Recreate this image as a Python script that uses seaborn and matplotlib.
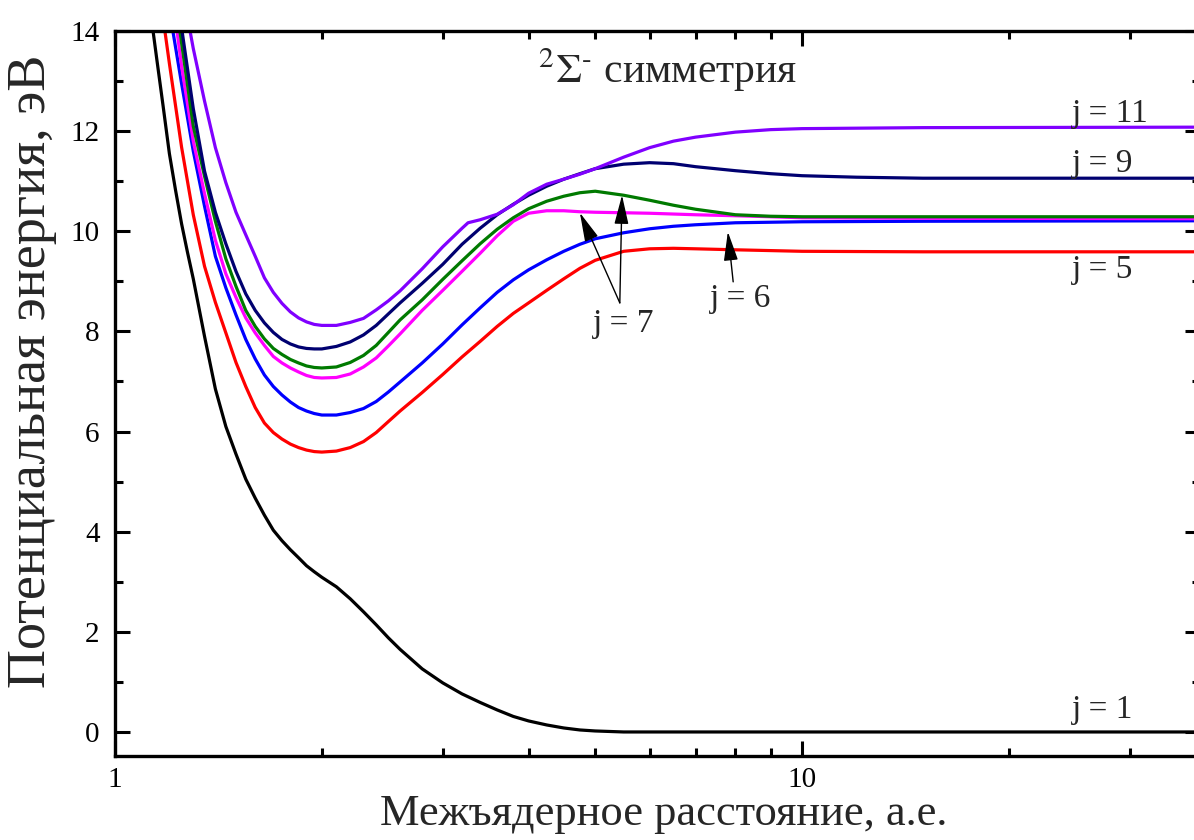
import numpy as np
import pandas as pd
import matplotlib
matplotlib.use("Agg")
import matplotlib.pyplot as plt
import seaborn as sns
from matplotlib.ticker import FixedLocator, NullFormatter, FixedFormatter

# ---------------- data ----------------
x_j1 = [1.136, 1.15, 1.175, 1.20, 1.225, 1.25, 1.275, 1.30, 1.35, 1.40, 1.45, 1.50, 1.55, 1.60, 1.65, 1.70,
        1.75, 1.80, 1.85, 1.90, 1.95, 2.0, 2.1, 2.2, 2.3, 2.4, 2.5, 2.6, 2.8, 3.0, 3.2, 3.4, 3.6, 3.8, 4.0,
        4.25, 4.5, 4.75, 5.0, 5.5, 6.0, 10.0, 40.0]
y_j1 = [14.0, 13.45, 12.5, 11.55, 10.82, 10.15, 9.58, 9.05, 7.9, 6.85, 6.1, 5.55, 5.05, 4.67, 4.33, 4.03,
        3.82, 3.64, 3.48, 3.32, 3.2, 3.09, 2.9, 2.66, 2.4, 2.14, 1.88, 1.65, 1.26, 0.98, 0.76, 0.59, 0.44, 0.31, 0.22,
        0.14, 0.08, 0.04, 0.02, 0.0, 0.0, 0.0, 0.0]

x_j5 = [1.182, 1.20, 1.25, 1.30, 1.35, 1.40, 1.45, 1.50, 1.55, 1.60, 1.65, 1.70, 1.75, 1.80, 1.85, 1.90, 1.95,
        2.0, 2.1, 2.2, 2.3, 2.4, 2.5, 2.6, 2.8, 3.0, 3.2, 3.4, 3.6, 3.8, 4.0, 4.25, 4.5, 4.75, 5.0, 5.5,
        6.0, 6.5, 7.0, 8.0, 10.0, 15.0, 40.0]
y_j5 = [14.0, 13.35, 11.68, 10.33, 9.3, 8.58, 7.97, 7.38, 6.9, 6.48, 6.17, 5.98, 5.85, 5.75, 5.68, 5.63, 5.60,
        5.59, 5.61, 5.68, 5.8, 5.98, 6.2, 6.41, 6.78, 7.14, 7.49, 7.8, 8.1, 8.36, 8.57, 8.82, 9.05, 9.26, 9.42, 9.6,
        9.65, 9.66, 9.65, 9.63, 9.6, 9.59, 9.59]

x_j6 = [1.214, 1.25, 1.30, 1.35, 1.40, 1.45, 1.50, 1.55, 1.60, 1.65, 1.70, 1.75, 1.80, 1.85, 1.90, 1.95,
        2.0, 2.1, 2.2, 2.3, 2.4, 2.5, 2.6, 2.8, 3.0, 3.2, 3.4, 3.6, 3.8, 4.0, 4.25, 4.5, 4.75, 5.0, 5.5,
        6.0, 6.5, 7.0, 8.0, 10.0, 15.0, 40.0]
y_j6 = [14.0, 12.95, 11.6, 10.5, 9.5, 8.87, 8.33, 7.84, 7.45, 7.13, 6.9, 6.73, 6.59, 6.48, 6.41, 6.36,
        6.33, 6.33, 6.38, 6.46, 6.6, 6.79, 6.99, 7.37, 7.75, 8.13, 8.47, 8.78, 9.03, 9.23, 9.43, 9.6, 9.74, 9.85, 9.97,
        10.05, 10.1, 10.13, 10.17, 10.19, 10.2, 10.21]

x_j7a = [1.231, 1.25, 1.30, 1.35, 1.40, 1.45, 1.50, 1.55, 1.60, 1.65, 1.70, 1.75, 1.80, 1.85, 1.90, 1.95,
         2.0, 2.1, 2.2, 2.3, 2.4, 2.5, 2.6, 2.8, 3.0, 3.2, 3.4, 3.6, 3.8, 4.0, 4.25, 4.5, 4.75, 5.0, 5.5,
         6.0, 7.0, 8.0, 9.0, 10.0, 15.0, 40.0]
y_j7a = [14.0, 13.3, 11.8, 10.75, 9.82, 9.15, 8.68, 8.27, 7.97, 7.72, 7.5, 7.37, 7.27, 7.19, 7.12, 7.08,
         7.07, 7.08, 7.15, 7.29, 7.47, 7.71, 7.95, 8.42, 8.82, 9.2, 9.56, 9.91, 10.2, 10.36, 10.41, 10.41, 10.39, 10.38, 10.37,
         10.36, 10.33, 10.31, 10.29, 10.27, 10.26, 10.25]

x_j7b = [1.243, 1.30, 1.35, 1.40, 1.45, 1.50, 1.55, 1.60, 1.65, 1.70, 1.75, 1.80, 1.85, 1.90, 1.95,
         2.0, 2.1, 2.2, 2.3, 2.4, 2.5, 2.6, 2.8, 3.0, 3.2, 3.4, 3.6, 3.8, 4.0, 4.25, 4.5, 4.75, 5.0, 5.5,
         6.0, 6.5, 7.0, 8.0, 9.0, 10.0, 40.0]
y_j7b = [14.0, 12.1, 11.1, 10.2, 9.45, 8.9, 8.42, 8.1, 7.85, 7.66, 7.54, 7.44, 7.37, 7.31, 7.28,
         7.27, 7.29, 7.38, 7.52, 7.72, 7.98, 8.23, 8.63, 9.04, 9.41, 9.75, 10.04, 10.27, 10.45, 10.6, 10.7, 10.77, 10.8, 10.72,
         10.62, 10.52, 10.44, 10.33, 10.3, 10.29, 10.29]

x_j9 = [1.252, 1.30, 1.35, 1.40, 1.45, 1.50, 1.55, 1.60, 1.65, 1.70, 1.75, 1.80, 1.85, 1.90, 1.95,
        2.0, 2.1, 2.2, 2.3, 2.4, 2.5, 2.6, 2.8, 3.0, 3.2, 3.4, 3.6, 3.8, 4.0, 4.25, 4.5, 4.75, 5.0, 5.5,
        6.0, 6.5, 7.0, 8.0, 9.0, 10.0, 12.0, 15.0, 40.0]
y_j9 = [14.0, 12.45, 11.2, 10.38, 9.75, 9.2, 8.75, 8.42, 8.17, 7.98, 7.84, 7.75, 7.69, 7.66, 7.65,
        7.65, 7.7, 7.79, 7.93, 8.12, 8.35, 8.57, 8.96, 9.34, 9.74, 10.06, 10.33, 10.54, 10.72, 10.9, 11.04, 11.15, 11.25, 11.34,
        11.37, 11.35, 11.29, 11.21, 11.15, 11.11, 11.08, 11.06, 11.06]

x_j11 = [1.286, 1.30, 1.35, 1.40, 1.45, 1.50, 1.55, 1.60, 1.65, 1.70, 1.75, 1.80, 1.85, 1.90, 1.95,
         2.0, 2.1, 2.2, 2.3, 2.4, 2.5, 2.6, 2.8, 3.0, 3.2, 3.265, 3.4, 3.6, 3.8, 4.0, 4.25, 4.5, 4.75, 5.0, 5.5,
         6.0, 6.5, 7.0, 8.0, 9.0, 10.0, 15.0, 40.0]
y_j11 = [14.0, 13.65, 12.6, 11.67, 10.97, 10.38, 9.93, 9.5, 9.07, 8.78, 8.56, 8.39, 8.27, 8.19, 8.14,
         8.12, 8.12, 8.18, 8.26, 8.43, 8.61, 8.81, 9.25, 9.69, 10.06, 10.17, 10.23, 10.34, 10.53, 10.76, 10.94, 11.04, 11.14, 11.25, 11.48,
         11.67, 11.8, 11.88, 11.98, 12.03, 12.05, 12.07, 12.08]

series_names = ["j1", "j5", "j6", "j7a", "j7b", "j9", "j11"]
series_x = [x_j1, x_j5, x_j6, x_j7a, x_j7b, x_j9, x_j11]
series_y = [y_j1, y_j5, y_j6, y_j7a, y_j7b, y_j9, y_j11]
series_colors = ["#000000", "#FF0000", "#0000FF", "#FF00FF", "#007A00", "#000070", "#8000FF"]

x_ticks = [1, 10]
x_ticklabels = ["1", "10"]
y_ticks = [0, 2, 4, 6, 8, 10, 12, 14]

labels_text = ["j = 11", "j = 9", "j = 5", "j = 1", "j = 7", "j = 6"]
labels_x = [24.7, 24.7, 24.7, 24.7, 4.96, 7.35]
labels_y = [12.18, 11.18, 9.07, 0.28, 7.99, 8.49]

arrow_tails = [(5.43, 8.57), (5.43, 8.57), (7.94, 8.99)]
arrow_heads = [(4.75, 10.37), (5.47, 10.72), (7.8, 9.99)]

# ---------------- figure ----------------
sns.set_theme(style="ticks")
plt.rcParams["font.family"] = ["Liberation Serif", "DejaVu Serif"]
plt.rcParams["mathtext.fontset"] = "stix"

fig = plt.figure(figsize=(11.94, 8.4), dpi=100)
ax = fig.add_axes([115/1194, 84/840, 1085/1194, 725/840])

for name, xs, ys, c in zip(series_names, series_x, series_y, series_colors):
    df = pd.DataFrame({"x": xs, "y": ys})
    sns.lineplot(data=df, x="x", y="y", ax=ax, color=c, lw=2.3, sort=False,
                 estimator=None, legend=False)
for ln in ax.lines:
    ln.set_solid_joinstyle("round")
    ln.set_solid_capstyle("round")

ax.set_xscale("log")
ax.set_xlim(1, 37.96)
ax.set_ylim(-0.48, 14)

ax.xaxis.set_major_locator(FixedLocator(x_ticks))
ax.xaxis.set_major_formatter(FixedFormatter(x_ticklabels))
ax.xaxis.set_minor_locator(FixedLocator([2, 3, 4, 5, 6, 7, 8, 9, 20, 30]))
ax.xaxis.set_minor_formatter(NullFormatter())
ax.yaxis.set_major_locator(FixedLocator(y_ticks))
ax.yaxis.set_minor_locator(FixedLocator([1, 3, 5, 7, 9, 11, 13]))

ax.tick_params(which="both", direction="in", top=True, right=True, colors="black",
               labelsize=21, width=2.2)
ax.tick_params(which="major", length=11, pad=11)
ax.tick_params(which="minor", length=6)
ax.tick_params(axis="x", which="major", pad=8)
for s in ax.spines.values():
    s.set_linewidth(2.4)
    s.set_color("black")

ax.set_xlabel("Межъядерное расстояние, а.е.", fontsize=32)
ax.set_ylabel("Потенциальная энергия, эВ", fontsize=39)
ax.xaxis.set_label_coords(0.506, -0.052)
ax.yaxis.set_label_coords(-0.053, 0.53)

ax.text(4.13, 12.96, r"$^{2}\Sigma^{\text{-}}$ симметрия", fontsize=30, ha="left", va="baseline")

for t, tx, ty in zip(labels_text, labels_x, labels_y):
    ax.text(tx, ty, t, fontsize=24, ha="left", va="baseline")

for (tx, ty), (hx, hy) in zip(arrow_tails, arrow_heads):
    ax.annotate("", xy=(hx, hy), xytext=(tx, ty),
                arrowprops=dict(arrowstyle="-|>,head_length=0.9,head_width=0.22",
                                color="black", lw=1.0, shrinkA=0, shrinkB=0,
                                mutation_scale=20))

fig.savefig("out.png", dpi=100)
